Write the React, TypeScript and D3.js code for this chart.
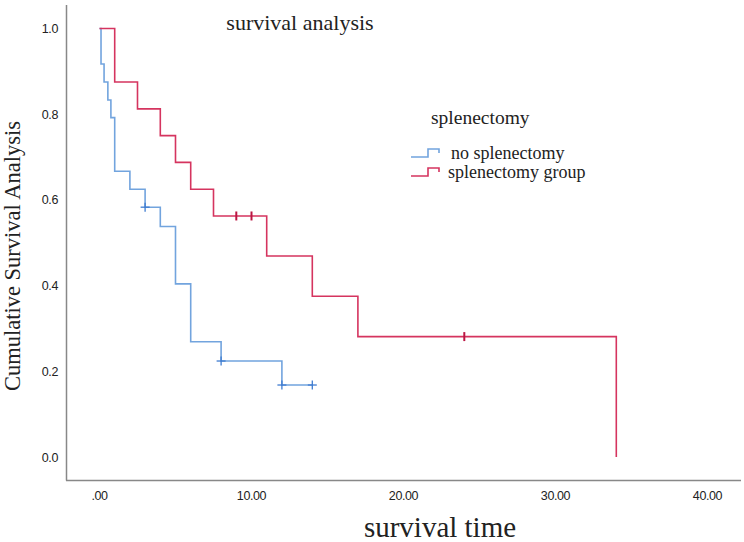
import * as d3 from "d3";
import React, { useEffect, useRef } from "react";

// no splenectomy group (blue)
const noSplenTimes = [0, 0.1, 0.3, 0.55, 0.75, 1, 2, 3, 4, 5, 6, 8, 12, 14];
const noSplenSurv = [1, 0.917, 0.875, 0.833, 0.792, 0.667, 0.625, 0.583, 0.538, 0.404, 0.269, 0.224, 0.168, 0.168];
const noSplenCensor = [3, 8, 12, 14];

// splenectomy group (red)
const splenTimes = [0, 1, 2.5, 4, 5, 6, 7.5, 11, 14, 17, 34];
const splenSurv = [1, 0.875, 0.8125, 0.75, 0.6875, 0.625, 0.5625, 0.469, 0.375, 0.281, 0];
const splenCensor = [9, 10, 24];

const xTicks = [0, 10, 20, 30, 40];
const yTicks = [0, 0.2, 0.4, 0.6, 0.8, 1.0];

const groupNames = ["no splenectomy", "splenectomy group"];
const lineColors = ["#72a4de", "#d5345f"];
const markColors = ["#3f7cd0", "#bb1643"];

const W = 744;
const H = 542;

const survAt = (times: number[], surv: number[], t: number) => {
	let v = surv[0];
	for (let i = 0; i < times.length; i++) {
		if (times[i] <= t) v = surv[i];
	}
	return v;
};

const App = () => {
	const svgRef = useRef<SVGSVGElement>(null);

	useEffect(() => {
		if (!svgRef.current) return;
		const svg = d3.select(svgRef.current);
		svg.selectAll("*").remove();

		const x = d3.scaleLinear().domain([0, 40]).range([99.5, 707.5]);
		const y = d3.scaleLinear().domain([0, 1]).range([457, 28.5]);

		const axisColor = "#888";
		const serif = "'Liberation Serif', serif";
		const sans = "'Liberation Sans', Arial, sans-serif";

		// axes lines
		svg.append("line")
			.attr("x1", 66.5).attr("x2", 66.5)
			.attr("y1", 5).attr("y2", 480.5)
			.attr("stroke", axisColor).attr("stroke-width", 1.5);
		svg.append("line")
			.attr("x1", 66).attr("x2", 741)
			.attr("y1", 480.5).attr("y2", 480.5)
			.attr("stroke", axisColor).attr("stroke-width", 1.5);

		// y tick labels
		svg.append("g")
			.selectAll("text")
			.data(yTicks)
			.enter()
			.append("text")
			.attr("x", 58)
			.attr("y", (d) => y(d) + 4.5)
			.attr("text-anchor", "end")
			.style("font-family", sans)
			.style("font-size", "12.5px")
			.style("letter-spacing", "-0.4px")
			.style("fill", "#222")
			.text((d) => d.toFixed(1));

		// x tick labels
		svg.append("g")
			.selectAll("text")
			.data(xTicks)
			.enter()
			.append("text")
			.attr("x", (d) => x(d))
			.attr("y", 500)
			.attr("text-anchor", "middle")
			.style("font-family", sans)
			.style("font-size", "12.5px")
			.style("letter-spacing", "-0.4px")
			.style("fill", "#222")
			.text((d) => (d === 0 ? ".00" : d.toFixed(2)));

		const line = d3
			.line<[number, number]>()
			.x((d) => x(d[0]))
			.y((d) => y(d[1]))
			.curve(d3.curveStepAfter);

		const groups = [
			{ times: noSplenTimes, surv: noSplenSurv, censor: noSplenCensor, cross: true },
			{ times: splenTimes, surv: splenSurv, censor: splenCensor, cross: false },
		];

		groups.forEach((g, i) => {
			const pts: [number, number][] = g.times.map((t, k) => [t, g.surv[k]]);
			svg.append("path")
				.datum(pts)
				.attr("fill", "none")
				.attr("stroke", lineColors[i])
				.attr("stroke-width", 1.6)
				.attr("d", line);

			const marks = svg.append("g");
			g.censor.forEach((t) => {
				const cx = x(t);
				const cy = y(survAt(g.times, g.surv, t));
				marks.append("line")
					.attr("x1", cx).attr("x2", cx)
					.attr("y1", cy - 4.5).attr("y2", cy + 4.5)
					.attr("stroke", markColors[i])
					.attr("stroke-width", g.cross ? 1.3 : 2);
				if (g.cross) {
					marks.append("line")
						.attr("x1", cx - 4.5).attr("x2", cx + 4.5)
						.attr("y1", cy).attr("y2", cy)
						.attr("stroke", markColors[i])
						.attr("stroke-width", 1.3);
				}
			});
		});

		// title
		svg.append("text")
			.attr("x", 300)
			.attr("y", 30)
			.attr("text-anchor", "middle")
			.style("font-family", serif)
			.style("font-size", "22px")
			.style("fill", "#222")
			.text("survival analysis");

		// axis titles
		svg.append("text")
			.attr("x", 440)
			.attr("y", 537)
			.attr("text-anchor", "middle")
			.style("font-family", serif)
			.style("font-size", "29px")
			.style("fill", "#222")
			.text("survival time");

		svg.append("text")
			.attr("transform", "translate(20,256) rotate(-90)")
			.attr("text-anchor", "middle")
			.style("font-family", serif)
			.style("font-size", "22.5px")
			.style("fill", "#222")
			.text("Cumulative Survival Analysis");

		// legend
		const legend = svg.append("g");
		legend.append("text")
			.attr("x", 431)
			.attr("y", 124)
			.style("font-family", serif)
			.style("font-size", "19.5px")
			.style("fill", "#222")
			.text("splenectomy");

		groupNames.forEach((name, i) => {
			const ly = 157 + i * 19;
			legend.append("path")
				.attr("d", `M411,${ly} H428 V${ly - 8} H439 V${ly - 4}`)
				.attr("fill", "none")
				.attr("stroke", lineColors[i])
				.attr("stroke-width", 1.6);
			legend.append("text")
				.attr("x", i === 0 ? 451 : 448)
				.attr("y", ly + 2)
				.style("font-family", serif)
				.style("font-size", "18px")
				.style("fill", "#222")
				.text(name);
		});
	}, []);

	return (
		<div style={{ position: "absolute", left: 0, top: 0, background: "#fff" }}>
			<svg ref={svgRef} width={W} height={H} />
		</div>
	);
};

export default App;
